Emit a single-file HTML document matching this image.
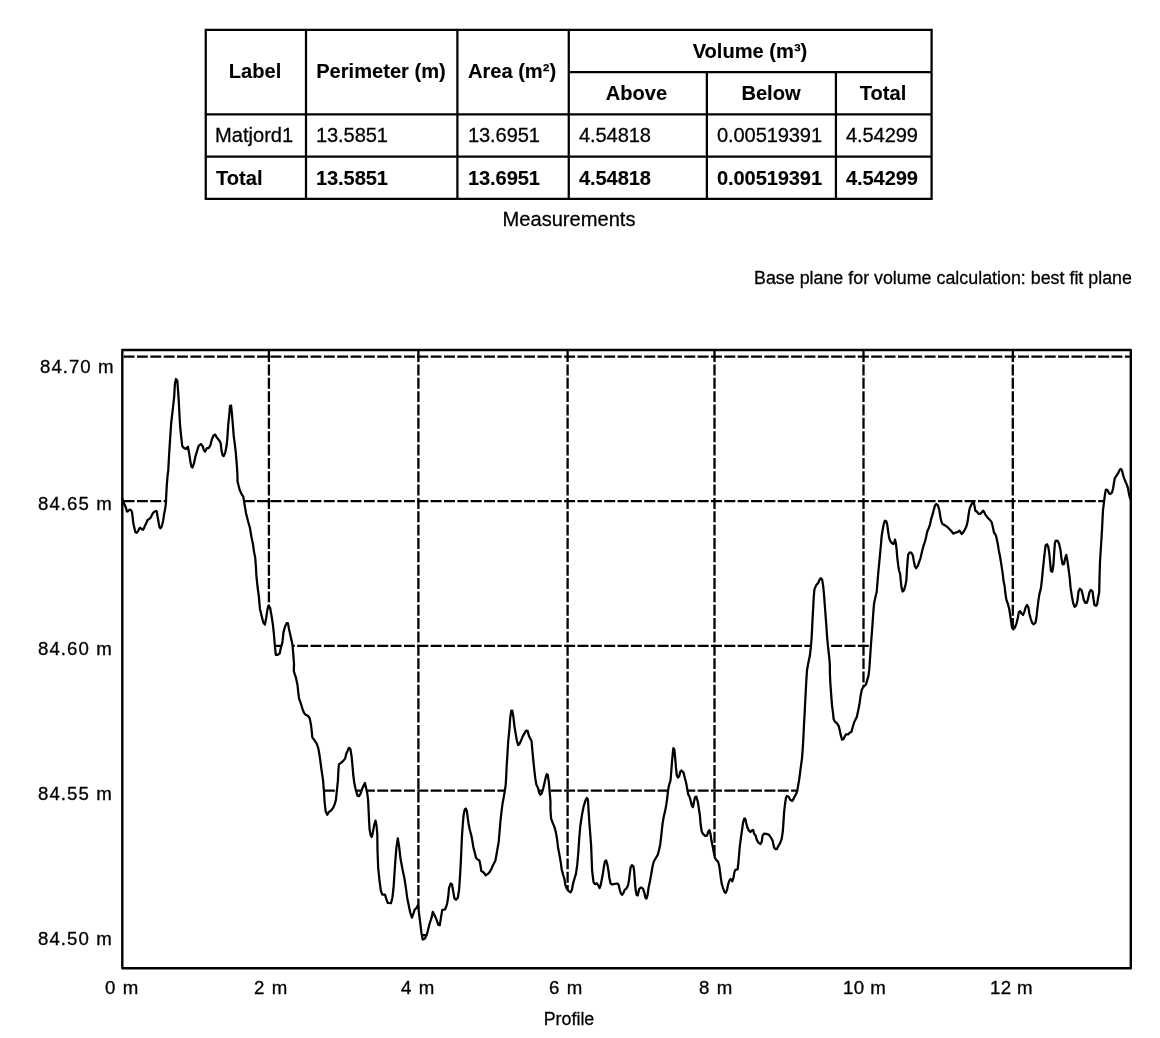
<!DOCTYPE html>
<html><head><meta charset="utf-8">
<style>
html,body{margin:0;padding:0;background:#fff;}
body{width:1160px;height:1038px;position:relative;overflow:hidden;font-family:"Liberation Sans",sans-serif;color:#000;}
.ln{position:absolute;background:#000;}
.t{-webkit-text-stroke:0.28px #000;position:absolute;white-space:nowrap;will-change:transform;font-size:20.1px;line-height:22px;}
.b{font-weight:bold;-webkit-text-stroke:0.12px #000;}
.c{text-align:center;}
.s{font-size:17.85px;line-height:20px;}
.ax{font-size:17.6px;letter-spacing:1px;line-height:20px;-webkit-text-stroke:0.3px #000;transform:scaleX(1.06);transform-origin:0 50%;}
sup.p{font-size:12px;vertical-align:baseline;position:relative;top:-6px;}
</style></head><body>
<!-- table lines -->
<!-- table text -->
<div class="t b c" style="left:206px;width:98px;top:59.8px">Label</div>
<div class="t b c" style="left:305.5px;width:150px;top:59.8px">Perimeter (m)</div>
<div class="t b c" style="left:456.8px;width:110px;top:59.8px">Area (m²)</div>
<div class="t b c" style="left:569px;width:362px;top:40px">Volume (m³)</div>
<div class="t b c" style="left:568px;width:137px;top:82px">Above</div>
<div class="t b c" style="left:706.5px;width:128px;top:82px">Below</div>
<div class="t b c" style="left:835.7px;width:94px;top:82px">Total</div>
<div class="t" style="left:215px;top:124px">Matjord1</div>
<div class="t" style="left:315.6px;top:124px;letter-spacing:-0.12px">13.5851</div>
<div class="t" style="left:467.6px;top:124px;letter-spacing:-0.12px">13.6951</div>
<div class="t" style="left:578.6px;top:124px;letter-spacing:-0.12px">4.54818</div>
<div class="t" style="left:716.6px;top:124px;letter-spacing:-0.12px">0.00519391</div>
<div class="t" style="left:845.6px;top:124px;letter-spacing:-0.12px">4.54299</div>
<div class="t b" style="left:216px;top:166.5px">Total</div>
<div class="t b" style="left:315.6px;top:166.5px;letter-spacing:-0.12px">13.5851</div>
<div class="t b" style="left:467.6px;top:166.5px;letter-spacing:-0.12px">13.6951</div>
<div class="t b" style="left:578.6px;top:166.5px;letter-spacing:-0.12px">4.54818</div>
<div class="t b" style="left:716.6px;top:166.5px;letter-spacing:-0.12px">0.00519391</div>
<div class="t b" style="left:845.6px;top:166.5px;letter-spacing:-0.12px">4.54299</div>
<div class="t c" style="left:468.5px;width:200px;top:208px">Measurements</div>
<div class="t s" style="left:754px;top:268px">Base plane for volume calculation: best fit plane</div>
<!-- axis labels -->
<div class="t ax" style="left:39.8px;top:356.5px;letter-spacing:0.95px">84.70 m</div>
<div class="t ax" style="left:38.3px;top:494.4px">84.65 m</div>
<div class="t ax" style="left:38.3px;top:639.1px">84.60 m</div>
<div class="t ax" style="left:38.3px;top:783.9px">84.55 m</div>
<div class="t ax" style="left:38.3px;top:928.8px">84.50 m</div>
<div class="t ax" style="left:105.3px;top:978.2px">0 m</div>
<div class="t ax" style="left:253.5px;top:978.2px">2 m</div>
<div class="t ax" style="left:401.2px;top:978.2px">4 m</div>
<div class="t ax" style="left:548.8px;top:978.2px">6 m</div>
<div class="t ax" style="left:698.7px;top:978.2px">8 m</div>
<div class="t ax" style="left:843.4px;top:978.2px;letter-spacing:0.45px">10 m</div>
<div class="t ax" style="left:989.8px;top:978.2px;letter-spacing:0.3px">12 m</div>
<div class="t s c" style="left:519px;width:100px;top:1009px">Profile</div>
<svg id="chart" width="1160" height="1038" viewBox="0 0 1160 1038" style="position:absolute;left:0;top:0">
<path d="M204.62 29.80H932.73 M568.76 72.05H932.73 M204.62 114.30H932.73 M204.62 156.65H932.73 M204.62 198.95H932.73 M205.75 28.68V200.07 M306.00 28.68V200.07 M457.40 28.68V200.07 M568.76 28.68V200.07 M706.86 72.05V200.07 M835.93 72.05V200.07 M931.60 28.68V200.07" fill="none" stroke="#000" stroke-width="2.25"/>
<g fill="none" stroke="#000" stroke-width="2.3" stroke-dasharray="10.95 2.4">
<path d="M123.6 356.7H1131"/>
<path d="M123.6 501.1H1131"/>
<path d="M123.6 645.8H1131"/>
<path d="M123.6 790.6H1131"/>
<path d="M123.6 935.2H1131"/>
<path d="M268.9 351.1V968"/>
<path d="M418.4 351.1V968"/>
<path d="M567.6 351.1V968"/>
<path d="M714.5 351.1V968"/>
<path d="M863.5 351.1V968"/>
<path d="M1012.8 351.1V968"/>
</g>
<!--CURVE-->
<path d="M122.3 498.6 L124.1 503.8 L125.9 507.6 L126.9 511.4 L127.9 511.4 L129.0 510.0 L130.0 509.7 L131.4 510.7 L132.1 512.8 L132.8 518.3 L133.4 523.8 L134.5 528.6 L135.3 532.1 L136.6 532.9 L138.1 531.0 L139.4 528.3 L140.3 527.6 L141.7 529.3 L143.1 529.7 L144.1 527.9 L145.2 525.2 L146.6 522.4 L147.6 520.0 L149.3 518.8 L150.7 517.6 L152.1 514.8 L153.1 512.8 L154.5 511.7 L155.9 511.0 L156.9 511.7 L157.2 514.8 L157.9 518.3 L158.6 522.4 L159.3 526.6 L160.3 528.3 L161.4 527.2 L162.2 524.5 L163.1 521.0 L164.1 514.1 L165.2 508.6 L165.9 503.1 L166.3 494.1 L166.9 483.8 L167.6 475.5 L168.3 470.0 L169.1 454.8 L170.1 438.9 L171.2 423.0 L172.8 409.2 L174.2 396.5 L174.9 383.8 L176.0 379.0 L177.3 380.6 L178.1 391.2 L178.8 401.8 L179.5 415.6 L180.2 427.2 L181.3 437.8 L182.3 446.3 L183.9 447.9 L186.0 449.0 L187.9 446.8 L189.2 453.7 L190.3 461.1 L191.3 466.4 L192.4 467.5 L194.0 463.3 L195.6 455.8 L197.2 450.5 L198.7 445.8 L200.9 444.0 L202.7 446.3 L204.0 450.5 L205.1 451.6 L206.7 448.4 L208.8 447.9 L210.4 445.2 L212.0 438.9 L213.6 435.5 L215.2 434.6 L216.6 437.3 L218.9 439.9 L220.7 443.1 L221.5 450.5 L222.6 455.3 L223.7 456.1 L225.2 452.7 L226.5 446.3 L227.4 437.8 L228.2 425.1 L229.3 414.5 L230.0 406.0 L231.1 405.5 L231.8 412.4 L232.7 423.0 L233.7 435.7 L234.8 444.2 L235.8 452.7 L236.7 463.3 L237.4 473.9 L237.5 481.2 L239.6 489.7 L241.7 494.4 L243.3 496.6 L244.2 502.4 L246.0 513.0 L248.1 521.5 L249.9 527.8 L251.3 536.3 L252.9 543.7 L253.9 551.1 L255.2 557.5 L256.0 568.1 L256.4 575.9 L257.5 586.5 L258.9 597.1 L259.9 608.7 L261.7 616.2 L263.3 622.5 L264.9 624.6 L266.3 617.2 L267.6 608.7 L268.6 605.6 L270.2 608.2 L271.6 616.2 L272.9 624.6 L273.9 634.2 L274.8 644.8 L275.8 654.8 L277.6 654.8 L279.7 653.5 L280.8 648.0 L282.4 642.7 L283.5 632.1 L285.0 626.8 L286.6 623.1 L287.9 623.1 L289.0 628.9 L290.9 637.4 L292.5 644.8 L293.2 653.3 L294.0 663.9 L293.8 671.2 L295.9 677.6 L297.5 685.0 L298.5 694.5 L299.1 698.7 L300.7 703.0 L302.3 708.3 L303.8 712.5 L305.4 714.6 L308.1 715.9 L309.7 718.4 L310.9 724.2 L311.8 731.6 L312.3 737.4 L314.4 740.1 L316.6 743.3 L318.2 748.0 L319.2 753.3 L320.1 759.2 L321.4 769.2 L323.0 779.8 L323.9 790.4 L324.6 802.1 L325.7 811.6 L327.3 814.8 L328.8 812.1 L331.0 810.5 L333.1 807.9 L334.7 804.2 L335.9 799.9 L336.8 791.5 L337.9 780.9 L338.4 770.3 L338.9 764.4 L341.0 762.9 L343.2 760.9 L345.1 758.6 L346.3 753.8 L347.9 750.1 L349.0 747.8 L350.4 749.1 L351.6 756.5 L352.5 766.0 L353.2 774.5 L354.3 783.0 L355.9 790.4 L357.5 795.7 L359.0 796.2 L360.6 793.6 L362.2 788.8 L363.8 785.1 L364.9 783.0 L365.9 787.2 L367.3 793.6 L368.1 799.9 L368.6 810.5 L369.1 821.1 L369.6 829.6 L370.9 836.0 L371.8 837.0 L372.8 832.8 L374.1 825.4 L375.5 820.6 L376.5 825.4 L377.3 833.9 L377.5 850.5 L378.2 868.0 L379.6 881.5 L380.9 890.9 L382.3 894.7 L385.0 894.7 L386.3 899.0 L387.7 902.8 L391.0 903.1 L392.4 897.7 L393.5 888.2 L394.4 874.7 L395.3 861.3 L396.4 847.8 L397.8 838.3 L399.1 846.4 L400.5 858.6 L402.5 869.3 L404.5 878.8 L405.9 888.2 L407.2 897.7 L408.8 905.8 L410.2 912.5 L411.9 917.6 L413.3 913.9 L414.6 909.8 L416.6 907.8 L418.0 905.1 L418.9 912.5 L420.3 923.3 L421.4 932.7 L422.7 939.5 L424.7 938.8 L426.8 934.8 L428.1 929.4 L429.5 924.0 L431.5 917.9 L432.8 911.8 L434.9 915.9 L436.9 920.6 L438.2 924.6 L439.8 925.3 L440.9 917.9 L442.3 909.8 L445.0 909.5 L447.0 904.4 L448.3 896.3 L449.0 888.2 L450.6 883.5 L452.0 884.2 L453.1 890.9 L454.4 898.3 L456.0 899.7 L457.8 897.7 L459.1 889.6 L460.1 874.8 L460.8 862.1 L461.4 849.3 L462.0 835.6 L462.9 822.9 L463.7 814.4 L464.7 809.6 L465.8 808.5 L466.9 811.2 L467.7 817.6 L468.6 823.9 L469.8 829.7 L471.4 835.6 L472.5 841.9 L473.5 847.8 L474.9 853.1 L476.0 857.8 L477.5 859.4 L479.4 860.5 L480.4 865.2 L481.3 871.1 L483.1 872.1 L484.7 873.7 L485.7 875.3 L487.9 873.9 L490.0 871.6 L491.6 868.4 L493.2 864.7 L495.3 861.0 L496.3 855.7 L497.4 849.3 L498.7 841.9 L499.5 832.4 L500.4 821.8 L501.4 812.3 L502.5 803.8 L503.7 797.4 L504.6 792.1 L505.7 784.8 L506.2 776.3 L506.7 765.7 L507.5 753.0 L508.3 740.3 L509.4 729.7 L510.2 718.0 L511.3 710.6 L512.3 710.6 L513.4 717.0 L514.5 726.5 L515.7 733.9 L516.8 740.3 L518.1 745.0 L519.4 744.0 L521.0 740.8 L522.6 736.6 L524.4 733.4 L526.1 730.7 L527.6 730.9 L529.0 736.0 L530.6 739.2 L531.6 741.3 L532.2 748.7 L533.2 759.3 L534.3 769.9 L535.3 778.4 L536.4 784.8 L538.0 788.0 L539.0 792.2 L540.3 794.8 L541.7 793.3 L543.1 789.0 L544.3 783.7 L545.6 777.9 L546.7 774.2 L547.7 774.7 L548.8 781.6 L549.6 791.1 L550.5 801.7 L550.4 809.1 L551.1 818.6 L552.7 822.9 L554.3 826.6 L555.9 832.4 L557.0 838.7 L558.0 847.2 L559.4 854.6 L560.7 862.1 L561.7 869.5 L563.1 874.8 L564.4 879.0 L565.4 885.4 L567.0 889.1 L568.8 891.2 L570.7 892.3 L572.0 889.6 L573.1 883.3 L574.4 879.0 L576.0 873.7 L577.3 864.2 L578.4 851.5 L579.2 838.7 L580.3 826.0 L581.9 815.4 L583.5 807.0 L585.4 800.6 L586.8 797.9 L587.9 799.5 L588.5 809.1 L589.3 821.8 L590.3 834.5 L591.1 845.1 L591.7 859.9 L592.1 870.5 L593.0 878.0 L593.5 882.2 L594.9 884.1 L596.7 883.3 L598.3 885.4 L599.6 888.0 L600.6 885.4 L601.7 880.1 L602.7 874.8 L603.8 867.4 L604.9 861.5 L606.2 860.5 L607.3 864.2 L608.4 870.5 L609.4 878.0 L610.5 883.3 L612.1 884.5 L614.7 883.8 L617.4 883.5 L618.6 884.8 L619.7 889.6 L620.8 893.3 L622.1 894.9 L623.5 892.8 L624.8 889.6 L626.4 888.6 L628.0 885.4 L629.0 880.1 L629.9 872.7 L630.6 867.4 L632.0 865.2 L633.3 866.1 L634.1 870.5 L634.8 880.1 L635.6 889.6 L636.7 894.9 L637.7 895.4 L638.6 891.7 L639.4 888.6 L641.2 887.5 L643.0 888.6 L644.4 892.8 L645.4 897.6 L646.5 898.6 L647.6 894.9 L648.6 887.5 L650.1 880.5 L651.2 874.2 L652.5 866.8 L653.8 861.5 L656.0 857.8 L657.8 854.6 L659.1 849.8 L660.2 844.5 L661.1 837.1 L661.8 830.7 L662.6 823.3 L663.9 815.9 L665.2 810.6 L666.2 805.3 L667.3 797.5 L668.1 790.1 L669.1 784.8 L670.5 780.6 L671.3 771.0 L672.0 761.5 L672.9 752.0 L673.4 748.2 L674.4 749.8 L675.2 758.3 L676.0 767.9 L676.8 775.3 L677.9 777.6 L679.2 776.3 L680.3 771.6 L681.5 770.5 L683.5 772.6 L684.7 777.4 L686.1 782.7 L687.2 789.0 L688.2 794.3 L689.8 797.5 L690.9 801.8 L691.9 806.0 L693.0 807.1 L694.0 801.8 L695.1 797.0 L696.4 796.7 L697.8 801.8 L698.8 808.1 L699.9 815.5 L700.6 824.0 L701.7 831.4 L703.1 834.1 L705.2 835.9 L707.0 835.7 L708.4 831.4 L709.4 830.2 L710.5 833.9 L711.4 840.3 L712.7 846.6 L713.7 851.9 L714.8 857.2 L716.1 859.9 L718.0 861.5 L719.2 865.7 L720.1 872.1 L720.9 878.4 L721.7 883.7 L723.0 888.0 L724.3 891.7 L725.6 893.0 L727.0 890.1 L728.0 884.8 L729.4 880.5 L730.7 879.0 L732.3 881.4 L733.6 877.4 L734.4 872.1 L735.4 869.9 L737.6 869.4 L738.3 863.6 L739.2 853.0 L739.8 846.3 L740.9 837.8 L742.0 830.4 L743.0 823.0 L744.1 818.7 L745.3 818.7 L746.2 823.0 L747.3 827.2 L748.8 830.4 L750.4 832.0 L752.0 830.4 L753.1 829.9 L754.1 833.6 L755.7 835.7 L756.8 839.9 L758.4 842.6 L760.5 844.0 L761.6 842.1 L762.6 835.7 L764.0 833.6 L766.3 833.8 L769.0 834.9 L771.1 837.8 L772.7 841.0 L774.0 847.4 L775.3 849.0 L776.9 849.0 L778.5 845.8 L780.1 843.1 L781.7 838.9 L782.8 831.5 L783.5 821.9 L784.1 812.4 L784.9 805.0 L785.9 798.1 L787.0 796.0 L788.6 796.7 L790.2 799.7 L792.3 800.9 L793.9 798.1 L795.5 794.9 L797.1 791.7 L798.1 785.9 L799.2 779.5 L800.0 773.2 L801.0 765.7 L802.0 758.3 L802.8 747.7 L803.4 737.1 L803.9 726.5 L804.5 715.9 L805.0 705.3 L805.7 692.6 L806.3 680.9 L807.0 670.3 L808.4 662.5 L809.8 656.1 L810.8 647.7 L811.6 638.1 L812.1 628.6 L812.6 618.0 L813.2 607.4 L813.7 597.9 L814.4 589.4 L816.3 585.1 L818.2 583.0 L819.5 579.8 L820.8 578.2 L822.2 579.8 L823.2 586.2 L824.0 594.7 L824.8 605.3 L825.6 615.9 L826.4 626.5 L827.1 637.1 L828.0 646.6 L829.0 655.1 L829.8 663.6 L829.9 673.5 L830.4 684.1 L831.2 694.7 L832.0 705.3 L833.1 713.7 L833.6 719.0 L834.9 721.7 L837.0 723.3 L838.6 725.9 L839.6 729.6 L840.7 734.9 L842.0 739.7 L843.4 739.2 L844.7 736.5 L846.0 734.4 L848.1 734.4 L849.7 732.8 L851.5 731.8 L852.6 727.5 L854.0 722.8 L855.5 719.6 L856.8 716.9 L858.2 710.6 L859.6 703.2 L860.6 695.7 L861.9 689.4 L864.0 686.2 L865.9 684.6 L867.0 680.9 L868.5 675.6 L869.3 669.2 L870.2 656.1 L870.9 645.5 L871.7 634.9 L872.5 624.3 L873.3 612.7 L874.1 603.2 L875.5 596.8 L876.7 592.0 L877.5 582.0 L878.3 572.4 L879.1 564.2 L880.1 553.6 L881.0 544.0 L881.7 535.6 L882.8 529.2 L883.8 523.9 L884.9 520.7 L886.3 521.3 L887.3 525.0 L888.1 531.3 L889.1 537.7 L890.2 540.9 L891.8 543.0 L893.4 544.0 L894.4 541.9 L895.0 539.6 L895.8 543.0 L896.6 549.3 L897.3 557.8 L898.2 565.2 L899.0 570.5 L900.1 573.7 L900.8 581.1 L901.5 587.5 L902.6 591.5 L904.0 590.1 L905.4 585.4 L906.4 580.1 L906.9 570.5 L907.5 562.1 L908.2 554.6 L909.6 552.5 L911.4 552.7 L912.8 555.2 L913.8 561.0 L914.9 566.3 L916.2 568.2 L917.8 565.8 L919.1 562.1 L920.6 557.8 L922.0 551.5 L923.4 546.2 L924.9 541.9 L926.2 536.6 L927.3 531.3 L928.7 528.2 L929.9 525.0 L931.0 519.7 L932.6 514.4 L934.0 509.1 L935.0 505.4 L936.3 504.0 L937.9 505.4 L939.3 510.1 L940.3 516.5 L941.4 521.8 L942.5 523.9 L944.8 525.2 L946.9 526.6 L949.6 529.2 L951.7 531.5 L953.3 533.7 L955.4 532.6 L957.5 532.2 L959.6 530.8 L960.7 532.4 L961.7 534.0 L963.3 532.2 L964.9 529.7 L966.5 526.0 L967.6 521.8 L968.6 514.4 L969.6 508.6 L971.2 504.9 L972.8 502.3 L973.8 502.8 L974.6 506.5 L975.4 510.7 L977.0 511.8 L978.6 513.9 L980.2 513.9 L981.8 512.3 L983.1 510.7 L984.1 511.8 L985.2 514.4 L987.1 516.9 L989.4 519.4 L991.5 521.9 L992.4 525.0 L993.2 528.7 L994.0 532.5 L995.8 535.1 L996.8 539.3 L997.9 544.6 L998.7 549.9 L999.8 555.2 L1000.7 560.5 L1001.7 566.9 L1002.8 574.3 L1003.5 580.7 L1004.6 586.0 L1005.4 593.6 L1006.4 599.9 L1008.0 604.2 L1009.3 609.5 L1010.3 615.8 L1011.2 622.2 L1012.0 627.5 L1013.3 629.4 L1014.9 627.5 L1016.5 623.3 L1017.8 618.0 L1018.8 612.1 L1020.2 611.1 L1021.6 613.7 L1023.1 614.8 L1024.4 611.6 L1025.8 606.8 L1027.1 605.0 L1028.4 607.4 L1029.4 613.7 L1030.8 619.0 L1032.2 623.0 L1033.7 624.3 L1035.4 622.7 L1036.4 618.0 L1037.2 610.5 L1038.2 602.1 L1039.3 594.6 L1040.9 588.3 L1041.9 579.8 L1042.8 570.3 L1043.8 560.7 L1044.9 551.2 L1045.6 545.4 L1047.0 544.3 L1048.3 547.0 L1049.3 553.3 L1050.2 562.9 L1050.9 570.8 L1052.3 571.9 L1053.4 565.0 L1054.1 554.4 L1054.9 542.7 L1055.9 540.6 L1057.6 540.8 L1059.1 543.8 L1060.5 550.1 L1061.5 558.6 L1062.6 564.4 L1064.0 563.9 L1065.2 558.1 L1066.3 554.9 L1067.4 560.7 L1068.6 569.2 L1069.7 577.7 L1070.5 587.2 L1071.8 595.7 L1073.2 603.1 L1074.6 606.8 L1076.1 605.8 L1077.4 601.0 L1078.5 591.5 L1079.9 588.8 L1081.4 589.9 L1082.7 594.6 L1083.8 599.9 L1085.4 602.9 L1087.0 602.6 L1088.0 598.9 L1089.4 592.5 L1090.7 589.9 L1092.6 591.5 L1093.3 597.8 L1094.4 604.7 L1096.0 605.8 L1097.2 604.2 L1098.1 597.8 L1099.2 592.5 L1099.5 577.7 L1100.0 561.8 L1102.0 530.0 L1102.5 519.4 L1103.0 510.1 L1103.9 503.2 L1104.5 497.8 L1105.3 492.4 L1105.8 489.9 L1107.0 489.7 L1108.1 491.2 L1109.1 493.5 L1110.4 494.1 L1112.0 492.4 L1113.1 488.5 L1113.9 483.1 L1114.8 478.1 L1116.2 476.2 L1118.2 473.1 L1119.7 469.9 L1120.8 468.9 L1122.0 470.2 L1122.8 473.9 L1123.9 477.7 L1125.5 481.6 L1127.0 485.1 L1127.9 487.8 L1128.7 492.4 L1129.7 497.0 L1130.9 500.1 L1132.0 969 L122.0 969 Z" fill="#fff" stroke="none"/>
<path d="M122.3 498.6 L124.1 503.8 L125.9 507.6 L126.9 511.4 L127.9 511.4 L129.0 510.0 L130.0 509.7 L131.4 510.7 L132.1 512.8 L132.8 518.3 L133.4 523.8 L134.5 528.6 L135.3 532.1 L136.6 532.9 L138.1 531.0 L139.4 528.3 L140.3 527.6 L141.7 529.3 L143.1 529.7 L144.1 527.9 L145.2 525.2 L146.6 522.4 L147.6 520.0 L149.3 518.8 L150.7 517.6 L152.1 514.8 L153.1 512.8 L154.5 511.7 L155.9 511.0 L156.9 511.7 L157.2 514.8 L157.9 518.3 L158.6 522.4 L159.3 526.6 L160.3 528.3 L161.4 527.2 L162.2 524.5 L163.1 521.0 L164.1 514.1 L165.2 508.6 L165.9 503.1 L166.3 494.1 L166.9 483.8 L167.6 475.5 L168.3 470.0 L169.1 454.8 L170.1 438.9 L171.2 423.0 L172.8 409.2 L174.2 396.5 L174.9 383.8 L176.0 379.0 L177.3 380.6 L178.1 391.2 L178.8 401.8 L179.5 415.6 L180.2 427.2 L181.3 437.8 L182.3 446.3 L183.9 447.9 L186.0 449.0 L187.9 446.8 L189.2 453.7 L190.3 461.1 L191.3 466.4 L192.4 467.5 L194.0 463.3 L195.6 455.8 L197.2 450.5 L198.7 445.8 L200.9 444.0 L202.7 446.3 L204.0 450.5 L205.1 451.6 L206.7 448.4 L208.8 447.9 L210.4 445.2 L212.0 438.9 L213.6 435.5 L215.2 434.6 L216.6 437.3 L218.9 439.9 L220.7 443.1 L221.5 450.5 L222.6 455.3 L223.7 456.1 L225.2 452.7 L226.5 446.3 L227.4 437.8 L228.2 425.1 L229.3 414.5 L230.0 406.0 L231.1 405.5 L231.8 412.4 L232.7 423.0 L233.7 435.7 L234.8 444.2 L235.8 452.7 L236.7 463.3 L237.4 473.9 L237.5 481.2 L239.6 489.7 L241.7 494.4 L243.3 496.6 L244.2 502.4 L246.0 513.0 L248.1 521.5 L249.9 527.8 L251.3 536.3 L252.9 543.7 L253.9 551.1 L255.2 557.5 L256.0 568.1 L256.4 575.9 L257.5 586.5 L258.9 597.1 L259.9 608.7 L261.7 616.2 L263.3 622.5 L264.9 624.6 L266.3 617.2 L267.6 608.7 L268.6 605.6 L270.2 608.2 L271.6 616.2 L272.9 624.6 L273.9 634.2 L274.8 644.8 L275.8 654.8 L277.6 654.8 L279.7 653.5 L280.8 648.0 L282.4 642.7 L283.5 632.1 L285.0 626.8 L286.6 623.1 L287.9 623.1 L289.0 628.9 L290.9 637.4 L292.5 644.8 L293.2 653.3 L294.0 663.9 L293.8 671.2 L295.9 677.6 L297.5 685.0 L298.5 694.5 L299.1 698.7 L300.7 703.0 L302.3 708.3 L303.8 712.5 L305.4 714.6 L308.1 715.9 L309.7 718.4 L310.9 724.2 L311.8 731.6 L312.3 737.4 L314.4 740.1 L316.6 743.3 L318.2 748.0 L319.2 753.3 L320.1 759.2 L321.4 769.2 L323.0 779.8 L323.9 790.4 L324.6 802.1 L325.7 811.6 L327.3 814.8 L328.8 812.1 L331.0 810.5 L333.1 807.9 L334.7 804.2 L335.9 799.9 L336.8 791.5 L337.9 780.9 L338.4 770.3 L338.9 764.4 L341.0 762.9 L343.2 760.9 L345.1 758.6 L346.3 753.8 L347.9 750.1 L349.0 747.8 L350.4 749.1 L351.6 756.5 L352.5 766.0 L353.2 774.5 L354.3 783.0 L355.9 790.4 L357.5 795.7 L359.0 796.2 L360.6 793.6 L362.2 788.8 L363.8 785.1 L364.9 783.0 L365.9 787.2 L367.3 793.6 L368.1 799.9 L368.6 810.5 L369.1 821.1 L369.6 829.6 L370.9 836.0 L371.8 837.0 L372.8 832.8 L374.1 825.4 L375.5 820.6 L376.5 825.4 L377.3 833.9 L377.5 850.5 L378.2 868.0 L379.6 881.5 L380.9 890.9 L382.3 894.7 L385.0 894.7 L386.3 899.0 L387.7 902.8 L391.0 903.1 L392.4 897.7 L393.5 888.2 L394.4 874.7 L395.3 861.3 L396.4 847.8 L397.8 838.3 L399.1 846.4 L400.5 858.6 L402.5 869.3 L404.5 878.8 L405.9 888.2 L407.2 897.7 L408.8 905.8 L410.2 912.5 L411.9 917.6 L413.3 913.9 L414.6 909.8 L416.6 907.8 L418.0 905.1 L418.9 912.5 L420.3 923.3 L421.4 932.7 L422.7 939.5 L424.7 938.8 L426.8 934.8 L428.1 929.4 L429.5 924.0 L431.5 917.9 L432.8 911.8 L434.9 915.9 L436.9 920.6 L438.2 924.6 L439.8 925.3 L440.9 917.9 L442.3 909.8 L445.0 909.5 L447.0 904.4 L448.3 896.3 L449.0 888.2 L450.6 883.5 L452.0 884.2 L453.1 890.9 L454.4 898.3 L456.0 899.7 L457.8 897.7 L459.1 889.6 L460.1 874.8 L460.8 862.1 L461.4 849.3 L462.0 835.6 L462.9 822.9 L463.7 814.4 L464.7 809.6 L465.8 808.5 L466.9 811.2 L467.7 817.6 L468.6 823.9 L469.8 829.7 L471.4 835.6 L472.5 841.9 L473.5 847.8 L474.9 853.1 L476.0 857.8 L477.5 859.4 L479.4 860.5 L480.4 865.2 L481.3 871.1 L483.1 872.1 L484.7 873.7 L485.7 875.3 L487.9 873.9 L490.0 871.6 L491.6 868.4 L493.2 864.7 L495.3 861.0 L496.3 855.7 L497.4 849.3 L498.7 841.9 L499.5 832.4 L500.4 821.8 L501.4 812.3 L502.5 803.8 L503.7 797.4 L504.6 792.1 L505.7 784.8 L506.2 776.3 L506.7 765.7 L507.5 753.0 L508.3 740.3 L509.4 729.7 L510.2 718.0 L511.3 710.6 L512.3 710.6 L513.4 717.0 L514.5 726.5 L515.7 733.9 L516.8 740.3 L518.1 745.0 L519.4 744.0 L521.0 740.8 L522.6 736.6 L524.4 733.4 L526.1 730.7 L527.6 730.9 L529.0 736.0 L530.6 739.2 L531.6 741.3 L532.2 748.7 L533.2 759.3 L534.3 769.9 L535.3 778.4 L536.4 784.8 L538.0 788.0 L539.0 792.2 L540.3 794.8 L541.7 793.3 L543.1 789.0 L544.3 783.7 L545.6 777.9 L546.7 774.2 L547.7 774.7 L548.8 781.6 L549.6 791.1 L550.5 801.7 L550.4 809.1 L551.1 818.6 L552.7 822.9 L554.3 826.6 L555.9 832.4 L557.0 838.7 L558.0 847.2 L559.4 854.6 L560.7 862.1 L561.7 869.5 L563.1 874.8 L564.4 879.0 L565.4 885.4 L567.0 889.1 L568.8 891.2 L570.7 892.3 L572.0 889.6 L573.1 883.3 L574.4 879.0 L576.0 873.7 L577.3 864.2 L578.4 851.5 L579.2 838.7 L580.3 826.0 L581.9 815.4 L583.5 807.0 L585.4 800.6 L586.8 797.9 L587.9 799.5 L588.5 809.1 L589.3 821.8 L590.3 834.5 L591.1 845.1 L591.7 859.9 L592.1 870.5 L593.0 878.0 L593.5 882.2 L594.9 884.1 L596.7 883.3 L598.3 885.4 L599.6 888.0 L600.6 885.4 L601.7 880.1 L602.7 874.8 L603.8 867.4 L604.9 861.5 L606.2 860.5 L607.3 864.2 L608.4 870.5 L609.4 878.0 L610.5 883.3 L612.1 884.5 L614.7 883.8 L617.4 883.5 L618.6 884.8 L619.7 889.6 L620.8 893.3 L622.1 894.9 L623.5 892.8 L624.8 889.6 L626.4 888.6 L628.0 885.4 L629.0 880.1 L629.9 872.7 L630.6 867.4 L632.0 865.2 L633.3 866.1 L634.1 870.5 L634.8 880.1 L635.6 889.6 L636.7 894.9 L637.7 895.4 L638.6 891.7 L639.4 888.6 L641.2 887.5 L643.0 888.6 L644.4 892.8 L645.4 897.6 L646.5 898.6 L647.6 894.9 L648.6 887.5 L650.1 880.5 L651.2 874.2 L652.5 866.8 L653.8 861.5 L656.0 857.8 L657.8 854.6 L659.1 849.8 L660.2 844.5 L661.1 837.1 L661.8 830.7 L662.6 823.3 L663.9 815.9 L665.2 810.6 L666.2 805.3 L667.3 797.5 L668.1 790.1 L669.1 784.8 L670.5 780.6 L671.3 771.0 L672.0 761.5 L672.9 752.0 L673.4 748.2 L674.4 749.8 L675.2 758.3 L676.0 767.9 L676.8 775.3 L677.9 777.6 L679.2 776.3 L680.3 771.6 L681.5 770.5 L683.5 772.6 L684.7 777.4 L686.1 782.7 L687.2 789.0 L688.2 794.3 L689.8 797.5 L690.9 801.8 L691.9 806.0 L693.0 807.1 L694.0 801.8 L695.1 797.0 L696.4 796.7 L697.8 801.8 L698.8 808.1 L699.9 815.5 L700.6 824.0 L701.7 831.4 L703.1 834.1 L705.2 835.9 L707.0 835.7 L708.4 831.4 L709.4 830.2 L710.5 833.9 L711.4 840.3 L712.7 846.6 L713.7 851.9 L714.8 857.2 L716.1 859.9 L718.0 861.5 L719.2 865.7 L720.1 872.1 L720.9 878.4 L721.7 883.7 L723.0 888.0 L724.3 891.7 L725.6 893.0 L727.0 890.1 L728.0 884.8 L729.4 880.5 L730.7 879.0 L732.3 881.4 L733.6 877.4 L734.4 872.1 L735.4 869.9 L737.6 869.4 L738.3 863.6 L739.2 853.0 L739.8 846.3 L740.9 837.8 L742.0 830.4 L743.0 823.0 L744.1 818.7 L745.3 818.7 L746.2 823.0 L747.3 827.2 L748.8 830.4 L750.4 832.0 L752.0 830.4 L753.1 829.9 L754.1 833.6 L755.7 835.7 L756.8 839.9 L758.4 842.6 L760.5 844.0 L761.6 842.1 L762.6 835.7 L764.0 833.6 L766.3 833.8 L769.0 834.9 L771.1 837.8 L772.7 841.0 L774.0 847.4 L775.3 849.0 L776.9 849.0 L778.5 845.8 L780.1 843.1 L781.7 838.9 L782.8 831.5 L783.5 821.9 L784.1 812.4 L784.9 805.0 L785.9 798.1 L787.0 796.0 L788.6 796.7 L790.2 799.7 L792.3 800.9 L793.9 798.1 L795.5 794.9 L797.1 791.7 L798.1 785.9 L799.2 779.5 L800.0 773.2 L801.0 765.7 L802.0 758.3 L802.8 747.7 L803.4 737.1 L803.9 726.5 L804.5 715.9 L805.0 705.3 L805.7 692.6 L806.3 680.9 L807.0 670.3 L808.4 662.5 L809.8 656.1 L810.8 647.7 L811.6 638.1 L812.1 628.6 L812.6 618.0 L813.2 607.4 L813.7 597.9 L814.4 589.4 L816.3 585.1 L818.2 583.0 L819.5 579.8 L820.8 578.2 L822.2 579.8 L823.2 586.2 L824.0 594.7 L824.8 605.3 L825.6 615.9 L826.4 626.5 L827.1 637.1 L828.0 646.6 L829.0 655.1 L829.8 663.6 L829.9 673.5 L830.4 684.1 L831.2 694.7 L832.0 705.3 L833.1 713.7 L833.6 719.0 L834.9 721.7 L837.0 723.3 L838.6 725.9 L839.6 729.6 L840.7 734.9 L842.0 739.7 L843.4 739.2 L844.7 736.5 L846.0 734.4 L848.1 734.4 L849.7 732.8 L851.5 731.8 L852.6 727.5 L854.0 722.8 L855.5 719.6 L856.8 716.9 L858.2 710.6 L859.6 703.2 L860.6 695.7 L861.9 689.4 L864.0 686.2 L865.9 684.6 L867.0 680.9 L868.5 675.6 L869.3 669.2 L870.2 656.1 L870.9 645.5 L871.7 634.9 L872.5 624.3 L873.3 612.7 L874.1 603.2 L875.5 596.8 L876.7 592.0 L877.5 582.0 L878.3 572.4 L879.1 564.2 L880.1 553.6 L881.0 544.0 L881.7 535.6 L882.8 529.2 L883.8 523.9 L884.9 520.7 L886.3 521.3 L887.3 525.0 L888.1 531.3 L889.1 537.7 L890.2 540.9 L891.8 543.0 L893.4 544.0 L894.4 541.9 L895.0 539.6 L895.8 543.0 L896.6 549.3 L897.3 557.8 L898.2 565.2 L899.0 570.5 L900.1 573.7 L900.8 581.1 L901.5 587.5 L902.6 591.5 L904.0 590.1 L905.4 585.4 L906.4 580.1 L906.9 570.5 L907.5 562.1 L908.2 554.6 L909.6 552.5 L911.4 552.7 L912.8 555.2 L913.8 561.0 L914.9 566.3 L916.2 568.2 L917.8 565.8 L919.1 562.1 L920.6 557.8 L922.0 551.5 L923.4 546.2 L924.9 541.9 L926.2 536.6 L927.3 531.3 L928.7 528.2 L929.9 525.0 L931.0 519.7 L932.6 514.4 L934.0 509.1 L935.0 505.4 L936.3 504.0 L937.9 505.4 L939.3 510.1 L940.3 516.5 L941.4 521.8 L942.5 523.9 L944.8 525.2 L946.9 526.6 L949.6 529.2 L951.7 531.5 L953.3 533.7 L955.4 532.6 L957.5 532.2 L959.6 530.8 L960.7 532.4 L961.7 534.0 L963.3 532.2 L964.9 529.7 L966.5 526.0 L967.6 521.8 L968.6 514.4 L969.6 508.6 L971.2 504.9 L972.8 502.3 L973.8 502.8 L974.6 506.5 L975.4 510.7 L977.0 511.8 L978.6 513.9 L980.2 513.9 L981.8 512.3 L983.1 510.7 L984.1 511.8 L985.2 514.4 L987.1 516.9 L989.4 519.4 L991.5 521.9 L992.4 525.0 L993.2 528.7 L994.0 532.5 L995.8 535.1 L996.8 539.3 L997.9 544.6 L998.7 549.9 L999.8 555.2 L1000.7 560.5 L1001.7 566.9 L1002.8 574.3 L1003.5 580.7 L1004.6 586.0 L1005.4 593.6 L1006.4 599.9 L1008.0 604.2 L1009.3 609.5 L1010.3 615.8 L1011.2 622.2 L1012.0 627.5 L1013.3 629.4 L1014.9 627.5 L1016.5 623.3 L1017.8 618.0 L1018.8 612.1 L1020.2 611.1 L1021.6 613.7 L1023.1 614.8 L1024.4 611.6 L1025.8 606.8 L1027.1 605.0 L1028.4 607.4 L1029.4 613.7 L1030.8 619.0 L1032.2 623.0 L1033.7 624.3 L1035.4 622.7 L1036.4 618.0 L1037.2 610.5 L1038.2 602.1 L1039.3 594.6 L1040.9 588.3 L1041.9 579.8 L1042.8 570.3 L1043.8 560.7 L1044.9 551.2 L1045.6 545.4 L1047.0 544.3 L1048.3 547.0 L1049.3 553.3 L1050.2 562.9 L1050.9 570.8 L1052.3 571.9 L1053.4 565.0 L1054.1 554.4 L1054.9 542.7 L1055.9 540.6 L1057.6 540.8 L1059.1 543.8 L1060.5 550.1 L1061.5 558.6 L1062.6 564.4 L1064.0 563.9 L1065.2 558.1 L1066.3 554.9 L1067.4 560.7 L1068.6 569.2 L1069.7 577.7 L1070.5 587.2 L1071.8 595.7 L1073.2 603.1 L1074.6 606.8 L1076.1 605.8 L1077.4 601.0 L1078.5 591.5 L1079.9 588.8 L1081.4 589.9 L1082.7 594.6 L1083.8 599.9 L1085.4 602.9 L1087.0 602.6 L1088.0 598.9 L1089.4 592.5 L1090.7 589.9 L1092.6 591.5 L1093.3 597.8 L1094.4 604.7 L1096.0 605.8 L1097.2 604.2 L1098.1 597.8 L1099.2 592.5 L1099.5 577.7 L1100.0 561.8 L1102.0 530.0 L1102.5 519.4 L1103.0 510.1 L1103.9 503.2 L1104.5 497.8 L1105.3 492.4 L1105.8 489.9 L1107.0 489.7 L1108.1 491.2 L1109.1 493.5 L1110.4 494.1 L1112.0 492.4 L1113.1 488.5 L1113.9 483.1 L1114.8 478.1 L1116.2 476.2 L1118.2 473.1 L1119.7 469.9 L1120.8 468.9 L1122.0 470.2 L1122.8 473.9 L1123.9 477.7 L1125.5 481.6 L1127.0 485.1 L1127.9 487.8 L1128.7 492.4 L1129.7 497.0 L1130.9 500.1" fill="none" stroke="#000" stroke-width="2.25" stroke-linejoin="round" stroke-linecap="round"/>
<!--/CURVE-->
<rect x="122.3" y="350" width="1008.5" height="618.3" fill="none" stroke="#000" stroke-width="2.4" stroke-linejoin="round"/>
</svg>
</body></html>
